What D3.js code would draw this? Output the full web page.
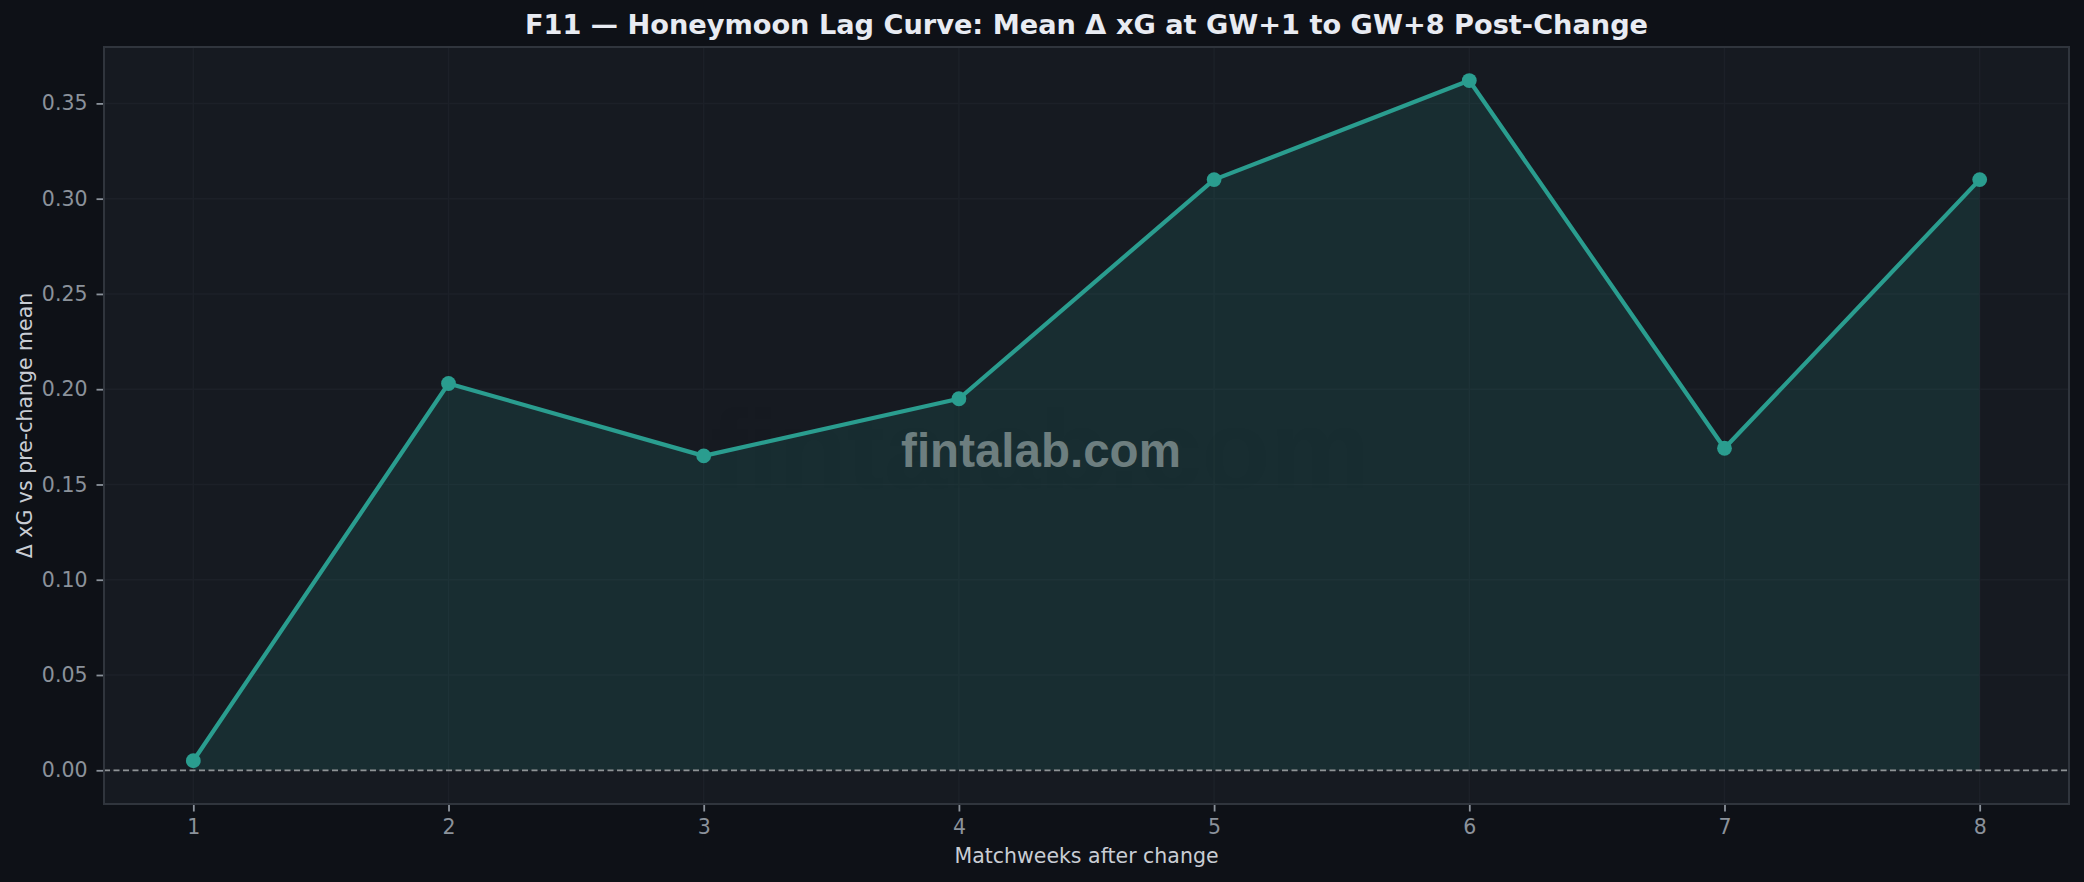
<!DOCTYPE html>
<html>
<head>
<meta charset="utf-8">
<script src="https://cdn.jsdelivr.net/npm/d3@7"></script>
<style>
  html, body { margin: 0; padding: 0; background: #0e1117; }
  svg { display: block; }
</style>
</head>
<body>
<svg id="chart" width="2084" height="882"></svg>
<script>
// ---- data ----
const weeks = [1, 2, 3, 4, 5, 6, 7, 8];
const deltaXG = [0.005, 0.203, 0.165, 0.195, 0.310, 0.362, 0.169, 0.310];
const yTicks = [0.00, 0.05, 0.10, 0.15, 0.20, 0.25, 0.30, 0.35];
const xTicks = [1, 2, 3, 4, 5, 6, 7, 8];
const titleText = "F11 \u2014 Honeymoon Lag Curve: Mean \u0394 xG at GW+1 to GW+8 Post-Change";
const xLabel = "Matchweeks after change";
const yLabel = "\u0394 xG vs pre-change mean";
const watermark = "fintalab.com";

const data = weeks.map((w, i) => ({ w, v: deltaXG[i] }));

const W = 2084, H = 882;
const m = { left: 104, right: W - 2069, top: 47, bottom: H - 804 };
const svg = d3.select("#chart");
const font = "'DejaVu Sans', sans-serif";

svg.append("rect").attr("width", W).attr("height", H).attr("fill", "#0e1117");

const x = d3.scaleLinear().domain([0.65, 8.35]).range([m.left, W - m.right]);
const y = d3.scaleLinear().domain([-0.0177, 0.3796]).range([H - m.bottom, m.top]);

// plot background
svg.append("rect")
  .attr("x", x(0.65)).attr("y", y(0.3796))
  .attr("width", x(8.35) - x(0.65)).attr("height", y(-0.0177) - y(0.3796))
  .attr("fill", "#161a21");

// grid
const grid = svg.append("g");
grid.selectAll(".gy").data(yTicks).join("line")
  .attr("x1", x(0.65)).attr("x2", x(8.35))
  .attr("y1", d => y(d)).attr("y2", d => y(d))
  .attr("stroke", "#1c2028").attr("stroke-width", 1.5);
grid.selectAll(".gx").data(xTicks).join("line")
  .attr("x1", d => x(d)).attr("x2", d => x(d))
  .attr("y1", y(-0.0177)).attr("y2", y(0.3796))
  .attr("stroke", "#1c2028").attr("stroke-width", 1.5);

// faint large ghost watermark
svg.append("text")
  .attr("x", 1040).attr("y", 488)
  .attr("text-anchor", "middle")
  .attr("font-family", "'Liberation Sans', Arial, sans-serif")
  .attr("font-weight", "bold")
  .attr("font-size", 112)
  .attr("fill", "#000000").attr("opacity", 0.025)
  .text(watermark);

// area fill
const area = d3.area().x(d => x(d.w)).y0(y(0)).y1(d => y(d.v));
svg.append("path").datum(data)
  .attr("d", area)
  .attr("fill", "#2a9d8f").attr("opacity", 0.15);

// zero dashed line
svg.append("line")
  .attr("x1", x(0.65)).attr("x2", x(8.35))
  .attr("y1", y(0)).attr("y2", y(0))
  .attr("stroke", "#8f9396").attr("stroke-width", 1.8)
  .attr("stroke-dasharray", "6,3.5");

// line
const line = d3.line().x(d => x(d.w)).y(d => y(d.v));
svg.append("path").datum(data)
  .attr("d", line)
  .attr("fill", "none")
  .attr("stroke", "#2a9d8f").attr("stroke-width", 4.2)
  .attr("stroke-linejoin", "round");

// markers
svg.selectAll(".pt").data(data).join("circle")
  .attr("cx", d => x(d.w)).attr("cy", d => y(d.v))
  .attr("r", 7.4).attr("fill", "#2a9d8f");

// spines
svg.append("rect")
  .attr("x", x(0.65)).attr("y", y(0.3796))
  .attr("width", x(8.35) - x(0.65)).attr("height", y(-0.0177) - y(0.3796))
  .attr("fill", "none").attr("stroke", "#30353d").attr("stroke-width", 2);

// axes
const yAxis = d3.axisLeft(y).tickValues(yTicks).tickFormat(d3.format(".2f"))
  .tickSize(6.5).tickPadding(9);
const gy = svg.append("g").attr("transform", `translate(${x(0.65) - 1},0)`).call(yAxis);
gy.select(".domain").remove();
gy.selectAll(".tick line").attr("stroke", "#8b929b").attr("stroke-width", 1.8);
gy.selectAll(".tick text").attr("fill", "#8b929b").attr("font-size", 20.5).attr("font-family", font);

const xAxis = d3.axisBottom(x).tickValues(xTicks).tickFormat(d3.format("d"))
  .tickSize(6.5).tickPadding(8);
const gx = svg.append("g").attr("transform", `translate(0,${y(-0.0177) + 1})`).call(xAxis);
gx.select(".domain").remove();
gx.selectAll(".tick line").attr("stroke", "#8b929b").attr("stroke-width", 1.8);
gx.selectAll(".tick text").attr("fill", "#8b929b").attr("font-size", 20.5).attr("font-family", font);

// main watermark
svg.append("text")
  .attr("x", 1041).attr("y", 467)
  .attr("text-anchor", "middle")
  .attr("font-family", "'Liberation Sans', Arial, sans-serif")
  .attr("font-weight", "bold")
  .attr("font-size", 47.5)
  .attr("fill", "#8a9a9a").attr("opacity", 0.75)
  .text(watermark);

// title
svg.append("text")
  .attr("x", (x(0.65) + x(8.35)) / 2).attr("y", 34)
  .attr("text-anchor", "middle")
  .attr("font-family", font).attr("font-weight", "bold")
  .attr("font-size", 27.2).attr("fill", "#e8ebf2")
  .text(titleText);

// axis labels
svg.append("text")
  .attr("x", (x(0.65) + x(8.35)) / 2).attr("y", 863)
  .attr("text-anchor", "middle")
  .attr("font-family", font).attr("font-size", 20.5).attr("fill", "#c9cdd4")
  .text(xLabel);

svg.append("text")
  .attr("transform", `translate(31.5,${(y(-0.0177) + y(0.3796)) / 2}) rotate(-90)`)
  .attr("text-anchor", "middle")
  .attr("font-family", font).attr("font-size", 20.5).attr("fill", "#c9cdd4")
  .text(yLabel);
</script>
</body>
</html>
